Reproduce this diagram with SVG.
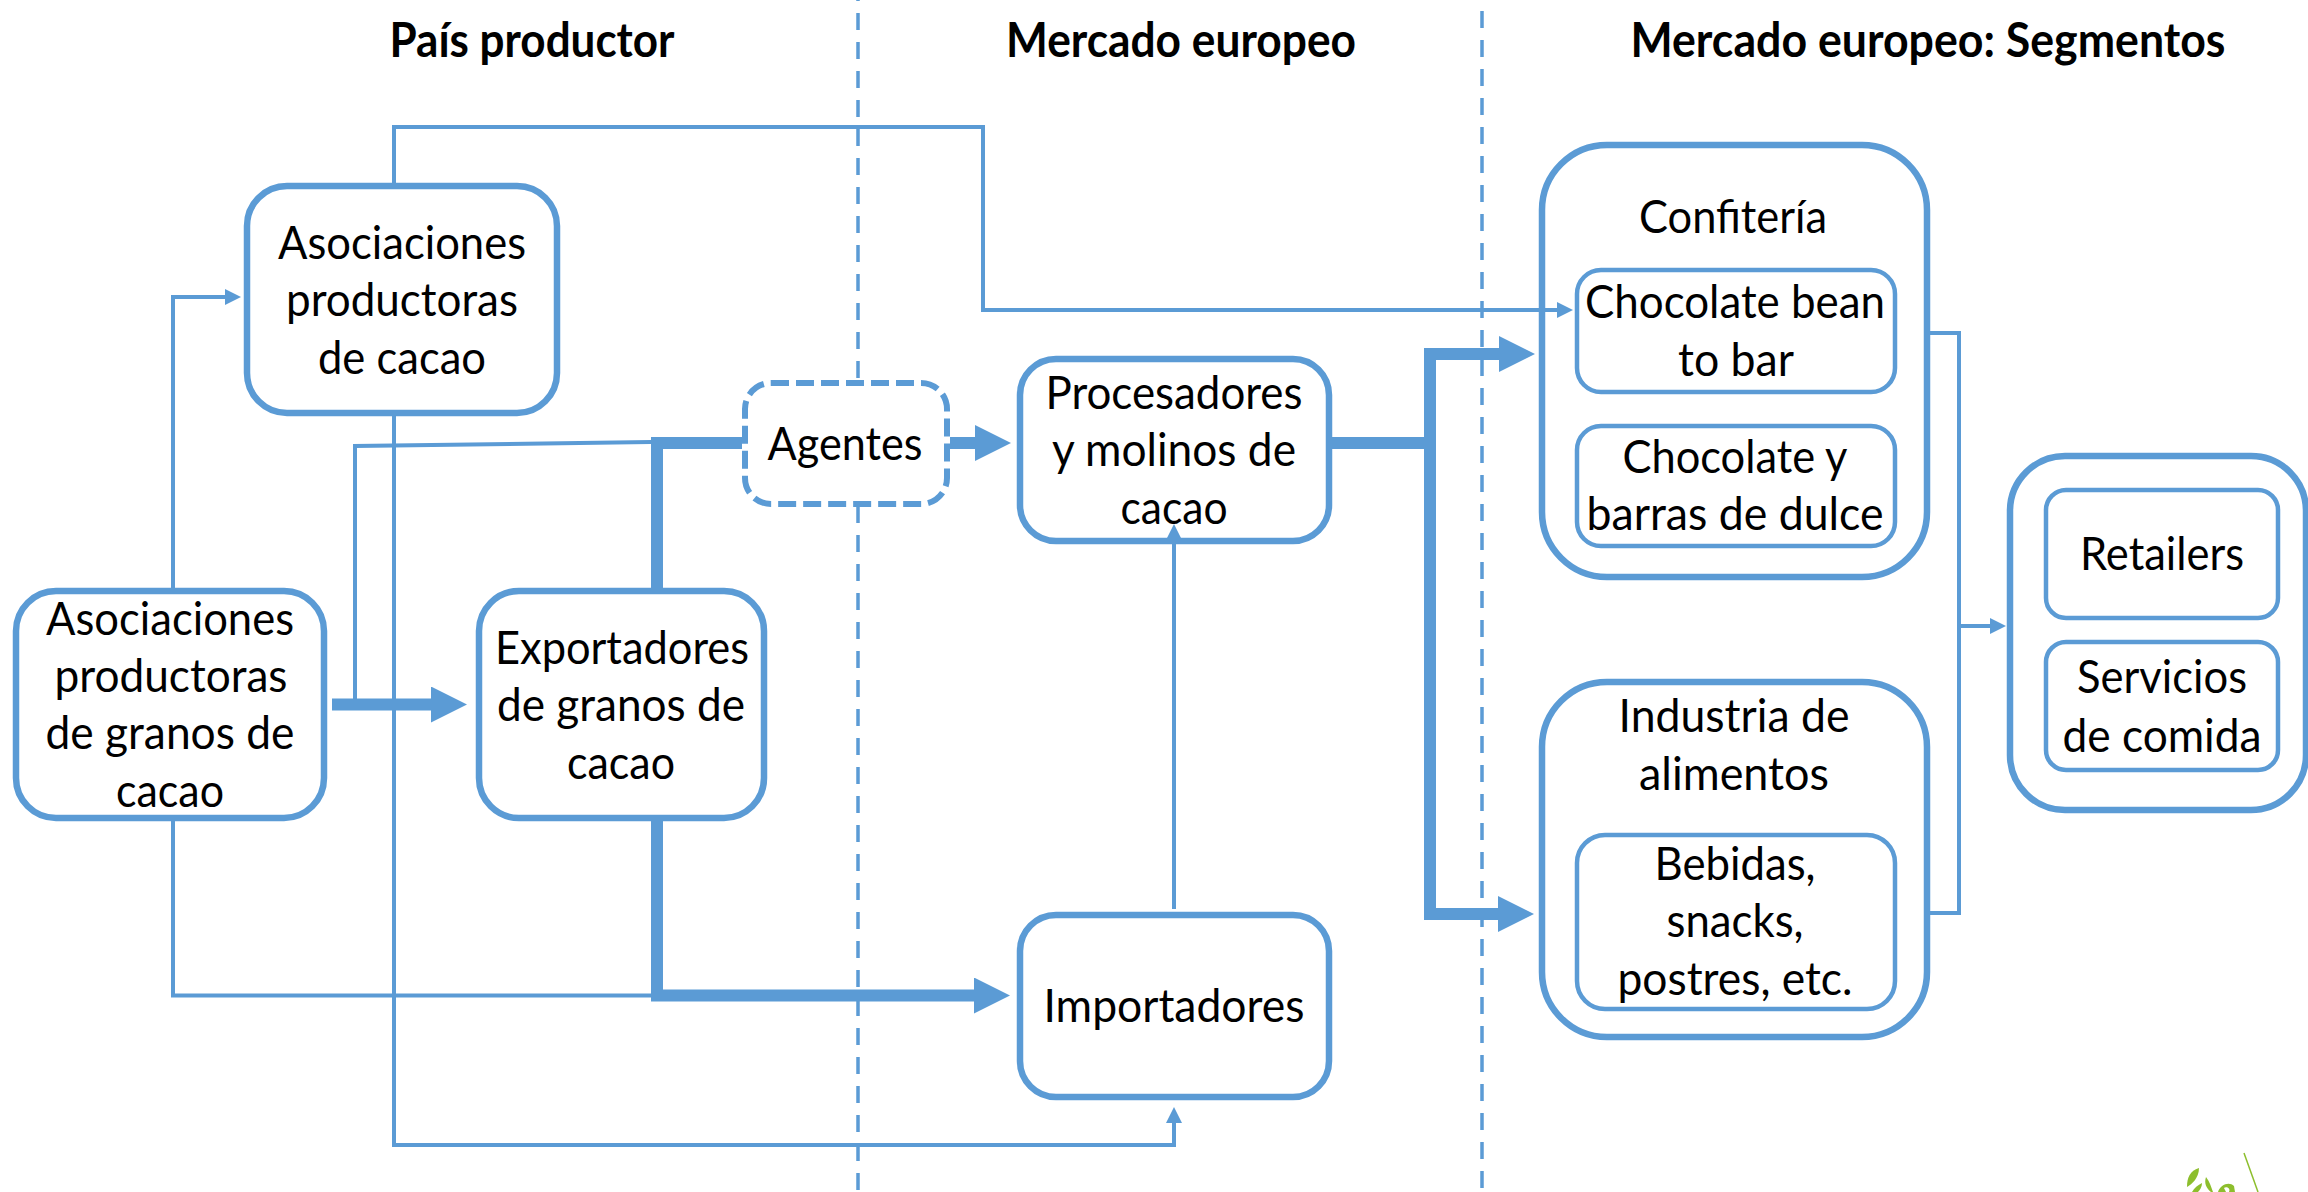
<svg xmlns="http://www.w3.org/2000/svg" width="2308" height="1192" viewBox="0 0 2308 1192">
<style>
text{font-family:Lato,"Liberation Sans",sans-serif;font-size:46px;fill:#000;text-anchor:middle}
text.t{font-weight:700;font-size:47px}
.b{fill:#fff;stroke:#5B9BD5;stroke-width:6.5}
.i{fill:#fff;stroke:#5B9BD5;stroke-width:4.5}
.d{fill:none;stroke:#5B9BD5;stroke-width:3.5;stroke-dasharray:17 12}
.n{fill:none;stroke:#5B9BD5;stroke-width:4}
.k{fill:none;stroke:#5B9BD5;stroke-width:12}
.as{marker-end:url(#sm)}
.al{marker-end:url(#lg)}
.l{fill:#8DBE2D}
</style>
<defs>
<marker id="sm" viewBox="0 0 16 16" markerUnits="userSpaceOnUse" markerWidth="16" markerHeight="16" refX="0" refY="8" orient="auto"><path d="M0 0L16 8L0 16Z" fill="#5B9BD5"/></marker>
<marker id="lg" viewBox="0 0 36 36" markerUnits="userSpaceOnUse" markerWidth="36" markerHeight="36" refX="0" refY="18" orient="auto"><path d="M0 0L36 18L0 36Z" fill="#5B9BD5"/></marker>
</defs>
<rect width="2308" height="1192" fill="#fff"/>
<g id="dividers">
<path class="d" d="M858 -16V1192"/>
<path class="d" d="M1482 -18V1192"/>
</g>
<g id="titles">
<text class="t" x="532" y="57" textLength="285" lengthAdjust="spacingAndGlyphs">País productor</text>
<text class="t" x="1181" y="57" textLength="350" lengthAdjust="spacingAndGlyphs">Mercado europeo</text>
<text class="t" x="1928" y="57" textLength="595" lengthAdjust="spacingAndGlyphs">Mercado europeo: Segmentos</text>
</g>
<g id="asoc-granos">
<rect class="b" x="16" y="591" width="308" height="227" rx="40"/>
<text x="170" y="635" textLength="248" lengthAdjust="spacingAndGlyphs">Asociaciones</text>
<text x="171" y="692" textLength="233" lengthAdjust="spacingAndGlyphs">productoras</text>
<text x="170" y="749" textLength="249" lengthAdjust="spacingAndGlyphs">de granos de</text>
<text x="170" y="807" textLength="108" lengthAdjust="spacingAndGlyphs">cacao</text>
</g>
<g id="asoc-cacao">
<rect class="b" x="247" y="186" width="310" height="227" rx="40"/>
<text x="402" y="259" textLength="248" lengthAdjust="spacingAndGlyphs">Asociaciones</text>
<text x="402" y="316" textLength="232" lengthAdjust="spacingAndGlyphs">productoras</text>
<text x="402" y="374" textLength="168" lengthAdjust="spacingAndGlyphs">de cacao</text>
</g>
<g id="exportadores">
<rect class="b" x="479" y="591" width="285" height="227" rx="40"/>
<text x="622" y="664" textLength="254" lengthAdjust="spacingAndGlyphs">Exportadores</text>
<text x="621" y="721" textLength="248" lengthAdjust="spacingAndGlyphs">de granos de</text>
<text x="621" y="779" textLength="108" lengthAdjust="spacingAndGlyphs">cacao</text>
</g>
<g id="agentes">
<rect x="745" y="383" width="202" height="121" rx="26" fill="#fff" stroke="#5B9BD5" stroke-width="6" stroke-dasharray="18 7"/>
<text x="845" y="460" textLength="155" lengthAdjust="spacingAndGlyphs">Agentes</text>
</g>
<g id="procesadores">
<rect class="b" x="1020" y="359" width="309" height="182" rx="36"/>
<text x="1174" y="409" textLength="257" lengthAdjust="spacingAndGlyphs">Procesadores</text>
<text x="1174" y="466" textLength="244" lengthAdjust="spacingAndGlyphs">y molinos de</text>
<text x="1174" y="524" textLength="107" lengthAdjust="spacingAndGlyphs">cacao</text>
</g>
<g id="importadores">
<rect class="b" x="1020" y="915" width="309" height="182" rx="36"/>
<text x="1174" y="1022" textLength="261" lengthAdjust="spacingAndGlyphs">Importadores</text>
</g>
<g id="confiteria">
<rect class="b" x="1542" y="145" width="385" height="432" rx="65"/>
<text x="1733" y="233" textLength="188" lengthAdjust="spacingAndGlyphs">Confitería</text>
</g>
<g id="bean-to-bar">
<rect class="i" x="1577" y="270" width="318" height="122" rx="24"/>
<text x="1735" y="318" textLength="300" lengthAdjust="spacingAndGlyphs">Chocolate bean</text>
<text x="1736" y="376" textLength="116" lengthAdjust="spacingAndGlyphs">to bar</text>
</g>
<g id="barras-dulce">
<rect class="i" x="1577" y="426" width="318" height="120" rx="24"/>
<text x="1735" y="473" textLength="225" lengthAdjust="spacingAndGlyphs">Chocolate y</text>
<text x="1735" y="530" textLength="297" lengthAdjust="spacingAndGlyphs">barras de dulce</text>
</g>
<g id="industria">
<rect class="b" x="1542" y="682" width="385" height="355" rx="65"/>
<text x="1734" y="732" textLength="231" lengthAdjust="spacingAndGlyphs">Industria de</text>
<text x="1734" y="790" textLength="190" lengthAdjust="spacingAndGlyphs">alimentos</text>
</g>
<g id="bebidas">
<rect class="i" x="1577" y="835" width="318" height="174" rx="28"/>
<text x="1735" y="880" textLength="161" lengthAdjust="spacingAndGlyphs">Bebidas,</text>
<text x="1735" y="937" textLength="137" lengthAdjust="spacingAndGlyphs">snacks,</text>
<text x="1735" y="995" textLength="235" lengthAdjust="spacingAndGlyphs">postres, etc.</text>
</g>
<g id="canales">
<rect class="b" x="2010" y="456" width="296" height="354" rx="55"/>
</g>
<g id="retailers">
<rect class="i" x="2046" y="490" width="232" height="128" rx="20"/>
<text x="2162" y="570" textLength="164" lengthAdjust="spacingAndGlyphs">Retailers</text>
</g>
<g id="servicios">
<rect class="i" x="2046" y="642" width="232" height="128" rx="20"/>
<text x="2162" y="693" textLength="170" lengthAdjust="spacingAndGlyphs">Servicios</text>
<text x="2162" y="752" textLength="199" lengthAdjust="spacingAndGlyphs">de comida</text>
</g>
<g id="connectors">
<path class="n as" d="M173 590V297H225"/>
<path class="n" d="M173 820V995.500H651"/>
<path class="n" d="M355 704V446L651 442"/>
<path class="n as" d="M394 186V127H983V310H1557"/>
<path class="n as" d="M394 414V1145H1174V1123"/>
<path class="n as" d="M1174 909V540"/>
<path class="n" d="M1930 333H1959V913H1930"/>
<path class="n as" d="M1959 626H1990"/>
<path class="k al" d="M332 704.500H431"/>
<path class="k" d="M657 588V443H742"/>
<path class="k al" d="M950 443H975"/>
<path class="k al" d="M657 820V995.500H974"/>
<path class="k al" d="M1332 443H1430V354H1499"/>
<path class="k al" d="M1430 443V914H1498"/>
</g>
<g id="logo">
<path class="l" d="M2199 1168C2190 1171 2187 1177 2187 1187C2192 1184 2199 1178 2199 1168Z"/>
<path class="l" d="M2192 1192C2194 1188 2198 1185 2202 1183C2202 1187 2200 1190 2198 1192Z"/>
<path class="l" d="M2206 1177C2204 1183 2206 1188 2211 1192H2213C2211 1187 2210 1182 2206 1177Z"/>
<path class="l" d="M2218 1192C2220 1185 2229 1181 2234 1186L2235 1192H2229C2231 1188 2226 1186 2224 1188L2226 1192Z"/>
<path d="M2244 1153L2258 1192" stroke="#8DBE2D" stroke-width="1.5" fill="none"/>
</g>
</svg>
